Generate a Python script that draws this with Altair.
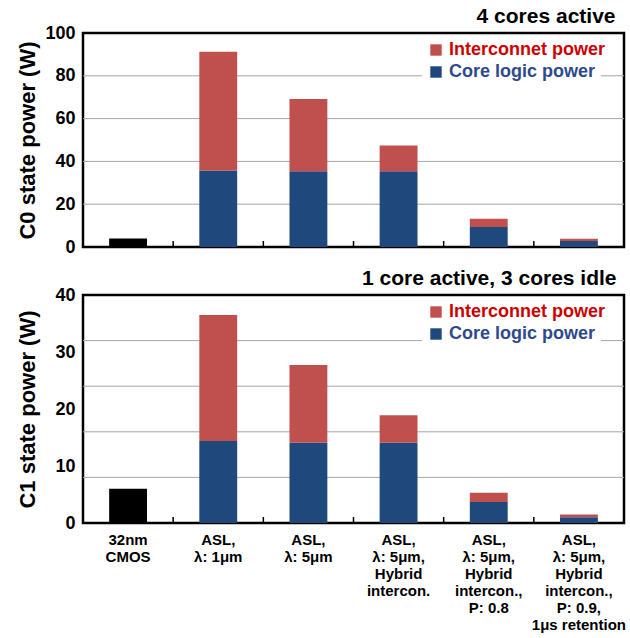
import altair as alt
import pandas as pd

categories = [
    "32nm|CMOS",
    "ASL,|λ: 1μm",
    "ASL,|λ: 5μm",
    "ASL,|λ: 5μm,|Hybrid|intercon.",
    "ASL,|λ: 5μm,|Hybrid|intercon.,|P: 0.8",
    "ASL,|λ: 5μm,|Hybrid|intercon.,|P: 0.9,|1μs retention",
]
series = ["Interconnet power", "Core logic power"]

# C0 state (4 cores active)
c0_cmos = 4.0
c0_core = [35.8, 35.4, 35.4, 9.4, 2.8]
c0_total = [91.2, 69.2, 47.4, 13.2, 3.8]
c0_grid = [20, 40, 60, 80]
c0_ticks = [0, 20, 40, 60, 80, 100]

# C1 state (1 core active, 3 cores idle)
c1_cmos = 6.0
c1_core = [14.4, 14.1, 14.1, 3.7, 1.0]
c1_total = [36.5, 27.7, 18.9, 5.3, 1.5]
c1_grid = [8, 16, 24, 32]
c1_ticks = [0, 10, 20, 30, 40]

FONT = "Liberation Sans"
W = 541
BAR = alt.RelativeBandSize(0.42)


def panel(cmos, core, total, grid, ticks, ymax, title, ytitle, h, show_labels):
    bars = pd.DataFrame({"cat": categories[1:], "core": core, "total": total})
    cm = pd.DataFrame({"cat": [categories[0]], "v": [cmos]})
    xs = alt.Scale(domain=categories, paddingInner=0, paddingOuter=0)
    ys = alt.Scale(domain=[0, ymax], nice=False, zero=True)
    xaxis = alt.Axis(
        labels=show_labels, ticks=False, domain=False, title=None,
        labelExpr="split(datum.label, '|')", labelFontSize=15,
        labelFontWeight="bold", labelColor="black", labelLineHeight=17,
        labelPadding=9, labelAngle=0, labelBaseline="top",
        labelOverlap=False, labelFont=FONT, grid=False,
    )
    yaxis = alt.Axis(
        values=ticks, grid=False, ticks=False, domain=False,
        title=ytitle, labelFontSize=18, labelFontWeight="bold",
        labelColor="black", labelPadding=8, labelFont=FONT,
        titleFontSize=22, titleFontWeight="bold", titleColor="black",
        titleFont=FONT, titleX=-56, titleY=h / 2, titleBaseline="middle",
        titleAngle=270, titleAlign="center",
    )
    X = lambda **kw: alt.X("cat:N", scale=xs, axis=xaxis, sort=categories, **kw)

    gridl = alt.Chart(pd.DataFrame({"g": grid})).mark_rule(
        color="#A6A6A6", strokeWidth=1
    ).encode(y=alt.Y("g:Q", scale=ys, axis=yaxis))

    legend_common = dict(
        title=None, orient="none", legendX=339, labelFontSize=18,
        labelFontWeight="bold", labelFont=FONT, symbolType="square",
        symbolSize=130, symbolStrokeWidth=0, fillColor="white", padding=5,
    )
    core_l = alt.Chart(bars).transform_calculate(s="'Core logic power'").mark_bar(width=BAR).encode(
        x=X(),
        y=alt.Y("core:Q", scale=ys, axis=yaxis),
        color=alt.Color(
            "s:N",
            scale=alt.Scale(domain=[series[1]], range=["#1F497D"]),
            legend=alt.Legend(legendY=25, labelColor="#2E4A8C", **legend_common),
        ),
    )
    inter_l = alt.Chart(bars).transform_calculate(s="'Interconnet power'").mark_bar(width=BAR).encode(
        x=X(),
        y=alt.Y("core:Q", scale=ys, axis=yaxis),
        y2="total:Q",
        fill=alt.Fill(
            "s:N",
            scale=alt.Scale(domain=[series[0]], range=["#C0504D"]),
            legend=alt.Legend(legendY=3, labelColor="#CC0000", **legend_common),
        ),
    )
    cmos_l = alt.Chart(cm).mark_bar(color="black", width=BAR).encode(
        x=X(),
        y=alt.Y("v:Q", scale=ys, axis=yaxis),
    )
    tick_l = alt.Chart(pd.DataFrame({"cat": categories[1:]})).mark_rule(
        color="black", strokeWidth=1.5
    ).encode(
        x=X(bandPosition=0),
        y=alt.value(h),
        y2=alt.value(h - 6),
    )
    return alt.layer(gridl, core_l, inter_l, cmos_l, tick_l).properties(
        width=W, height=h,
        title=alt.Title(title, anchor="end", fontSize=21, fontWeight="bold",
                        font=FONT, color="black", offset=-3, dx=-9),
    ).resolve_scale(color="independent", fill="independent")


top = panel(c0_cmos, c0_core, c0_total, c0_grid, c0_ticks, 100,
            "4 cores active", "C0 state power (W)", 214, False)
bottom = panel(c1_cmos, c1_core, c1_total, c1_grid, c1_ticks, 40,
               "1 core active, 3 cores idle", "C1 state power (W)", 228, True)

chart = alt.vconcat(top, bottom, spacing=8).properties(
    padding={"left": 14, "top": 4, "right": 2, "bottom": 2},
    background="white",
).configure(font=FONT).configure_view(stroke="black", strokeWidth=2.5)

chart.save("out.html", embed_options={"renderer": "svg", "actions": False})
